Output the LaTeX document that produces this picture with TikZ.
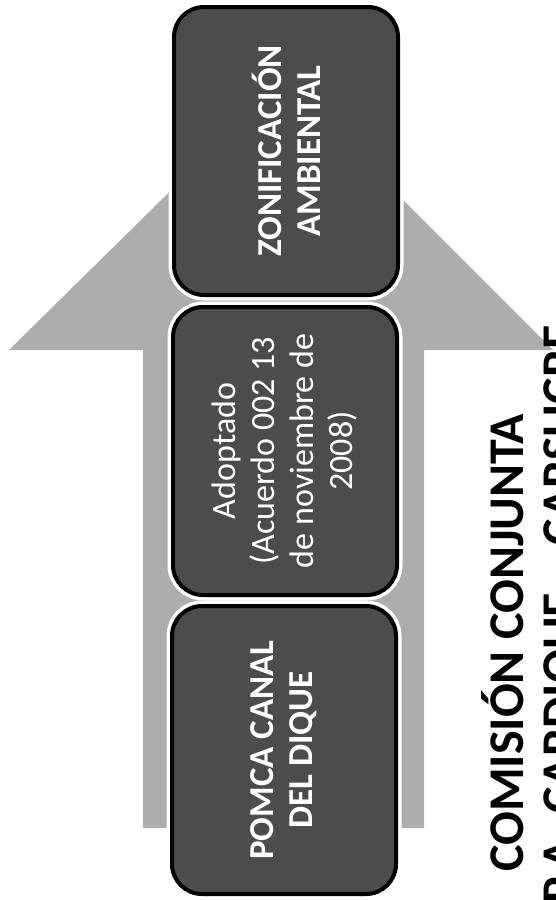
\documentclass[tikz,border=0pt]{standalone}
\usepackage{fontspec}
\setmainfont{Carlito}
\definecolor{arrowgray}{HTML}{ADADAD}
\definecolor{boxgray}{HTML}{4C4C4C}
\begin{document}
\begin{tikzpicture}[x=1pt,y=-1pt,
  stage/.style={rectangle, rotate=90, rounded corners=30pt, fill=boxgray, draw=black,
    line width=4pt, preaction={draw=white, line width=11pt},
    minimum width=288pt, minimum height=224pt, align=center, text=white, inner sep=4pt},
  stagebold/.style={stage, font=\fontsize{35}{39}\selectfont\bfseries},
  stageplain/.style={stage, font=\fontsize{34}{39}\selectfont},
  title/.style={rotate=90, anchor=base west, inner sep=0pt, font=\fontsize{50}{52}\selectfont\bfseries}]
\useasboundingbox (0,0) rectangle (555,900);
% big upward arrow in the background
\fill[arrowgray] (143,828) -- (143,350) -- (9,350) -- (283,80) -- (553,350)
  -- (424,350) -- (424,828) -- cycle;
% stages
\node[stagebold] (zon) at (286,151) {ZONIFICACIÓN\\AMBIENTAL};
\node[stageplain] (ado) at (285,451) {Adoptado\\(Acuerdo 002 13\\de noviembre de\\2008)};
\node[stagebold] (pom) at (284,750) {POMCA CANAL\\DEL DIQUE};
% caption
\node[title] (com) at (523,872) {COMISIÓN CONJUNTA};
\node[title] (par) at (576,904) {P.A. CARDIQUE – CARSUCRE};
\end{tikzpicture}
\end{document}
